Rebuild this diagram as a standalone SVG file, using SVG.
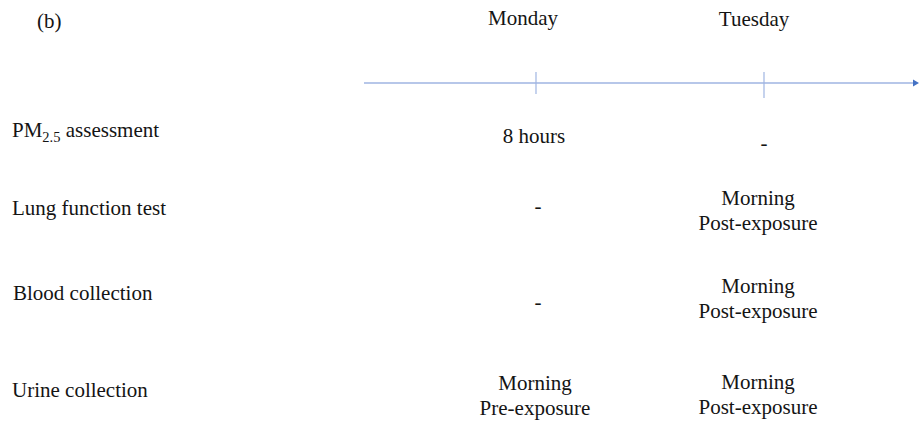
<svg xmlns="http://www.w3.org/2000/svg" width="919" height="421" viewBox="0 0 919 421" font-family="'Liberation Serif', 'Times New Roman', Times, serif">
<style>
text{font-family:'Liberation Serif','Times New Roman',Times,serif;font-size:21px;fill:#141414}
.c{text-anchor:middle}
.axis{stroke:#9fb5e2;stroke-width:1.5;fill:none}
.tick{stroke:#9fb5e2;stroke-width:1.2}
</style>
<rect width="919" height="421" fill="#fff"/>
<g id="label-b"><text x="37" y="28">(b)</text></g>
<g id="connectors">
<line class="axis" x1="364" y1="83" x2="914" y2="83"/>
<polygon points="913,79.5 919,83 913,86.5" fill="#4472c4"/>
<line class="tick" x1="536" y1="72" x2="536" y2="94"/>
<line class="tick" x1="764" y1="72" x2="764" y2="98"/>
</g>
<g id="day-monday"><text class="c" x="523" y="25">Monday</text></g>
<g id="day-tuesday"><text class="c" x="754" y="26">Tuesday</text></g>
<g id="row-pm"><text x="12" y="137">PM<tspan font-size="14.5" dy="5">2.5</tspan><tspan dy="-5"> assessment</tspan></text></g>
<g id="row-lung"><text x="12" y="215">Lung function test</text></g>
<g id="row-blood"><text x="13" y="300">Blood collection</text></g>
<g id="row-urine"><text x="12" y="397">Urine collection</text></g>
<g id="pm-mon"><text class="c" x="534" y="143">8 hours</text></g>
<g id="pm-tue"><text class="c" x="764" y="150">-</text></g>
<g id="lung-mon"><text class="c" x="538" y="213">-</text></g>
<g id="lung-tue"><text class="c" x="758" y="205">Morning</text><text class="c" x="758" y="230">Post-exposure</text></g>
<g id="blood-mon"><text class="c" x="538" y="309">-</text></g>
<g id="blood-tue"><text class="c" x="758" y="293">Morning</text><text class="c" x="758" y="318">Post-exposure</text></g>
<g id="urine-mon"><text class="c" x="535" y="390">Morning</text><text class="c" x="535" y="415">Pre-exposure</text></g>
<g id="urine-tue"><text class="c" x="758" y="389">Morning</text><text class="c" x="758" y="414">Post-exposure</text></g>
</svg>
